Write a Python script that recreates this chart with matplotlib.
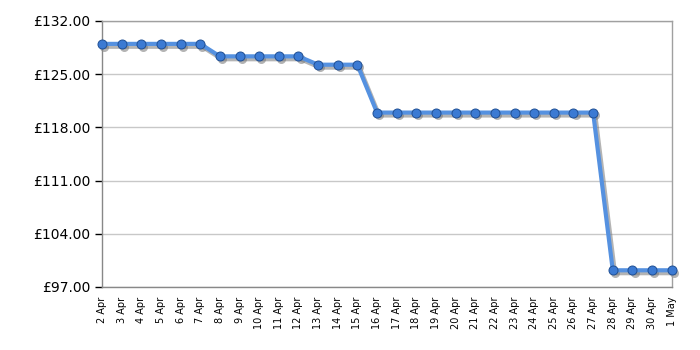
import matplotlib
matplotlib.use("Agg")
import matplotlib.pyplot as plt
import matplotlib.transforms as mtransforms
import numpy as np

# dates (2 Apr -> 1 May) and prices
dates = ["2 Apr", "3 Apr", "4 Apr", "5 Apr", "6 Apr", "7 Apr", "8 Apr", "9 Apr",
         "10 Apr", "11 Apr", "12 Apr", "13 Apr", "14 Apr", "15 Apr", "16 Apr",
         "17 Apr", "18 Apr", "19 Apr", "20 Apr", "21 Apr", "22 Apr", "23 Apr",
         "24 Apr", "25 Apr", "26 Apr", "27 Apr", "28 Apr", "29 Apr", "30 Apr", "1 May"]
prices = [128.99, 128.99, 128.99, 128.99, 128.99, 128.99,
          127.35, 127.35, 127.35, 127.35, 127.35,
          126.25, 126.25, 126.25,
          119.95, 119.95, 119.95, 119.95, 119.95, 119.95,
          119.95, 119.95, 119.95, 119.95, 119.95, 119.95,
          99.20, 99.20, 99.20, 99.20]
y_ticks = [97, 104, 111, 118, 125, 132]

x = np.arange(len(dates))

fig = plt.figure(figsize=(7, 3.5), dpi=100)
ax = fig.add_axes([0.1457, 0.18, 0.8139, 0.76])

# soft drop shadow, shifted a little right/down
shadow = mtransforms.offset_copy(ax.transData, fig=fig, x=1.5, y=-2, units="points")
ax.plot(x, prices, color="#777777", alpha=0.55, linewidth=3.2,
        marker="o", markersize=6.5, markeredgewidth=0, transform=shadow, zorder=2,
        clip_on=False)

ax.plot(x, prices, color="#5591e0", linewidth=3, solid_joinstyle="round",
        marker="o", markersize=6.5, markerfacecolor="#3b7ad3",
        markeredgecolor="#1f4f94", markeredgewidth=0.7, zorder=3, clip_on=False)

ax.set_xlim(0, len(dates) - 1)
ax.set_ylim(97, 132)

ax.set_yticks(y_ticks)
ax.set_yticklabels(["£%.2f" % v for v in y_ticks], fontsize=10)

# every date labelled, gridlines / tick marks only every 3 days
ax.set_xticks(x)
ax.set_xticklabels(dates, rotation=90, fontsize=7)
ax.tick_params(axis="x", which="major", length=0, pad=7)
ax.set_xticks(x[2::3], minor=True)
ax.tick_params(axis="x", which="minor", length=5, color="black", width=1)
ax.tick_params(axis="y", length=5, color="black", width=1)

ax.grid(True, axis="y", color="#c8c8c8", linewidth=1)
ax.grid(True, axis="x", which="minor", color="#c8c8c8", linewidth=1)
ax.set_axisbelow(True)

for s in ax.spines.values():
    s.set_color("#a0a0a0")
    s.set_linewidth(1)
ax.spines["left"].set_color("#888888")
ax.spines["bottom"].set_color("#888888")

fig.savefig("out.png", dpi=100)
